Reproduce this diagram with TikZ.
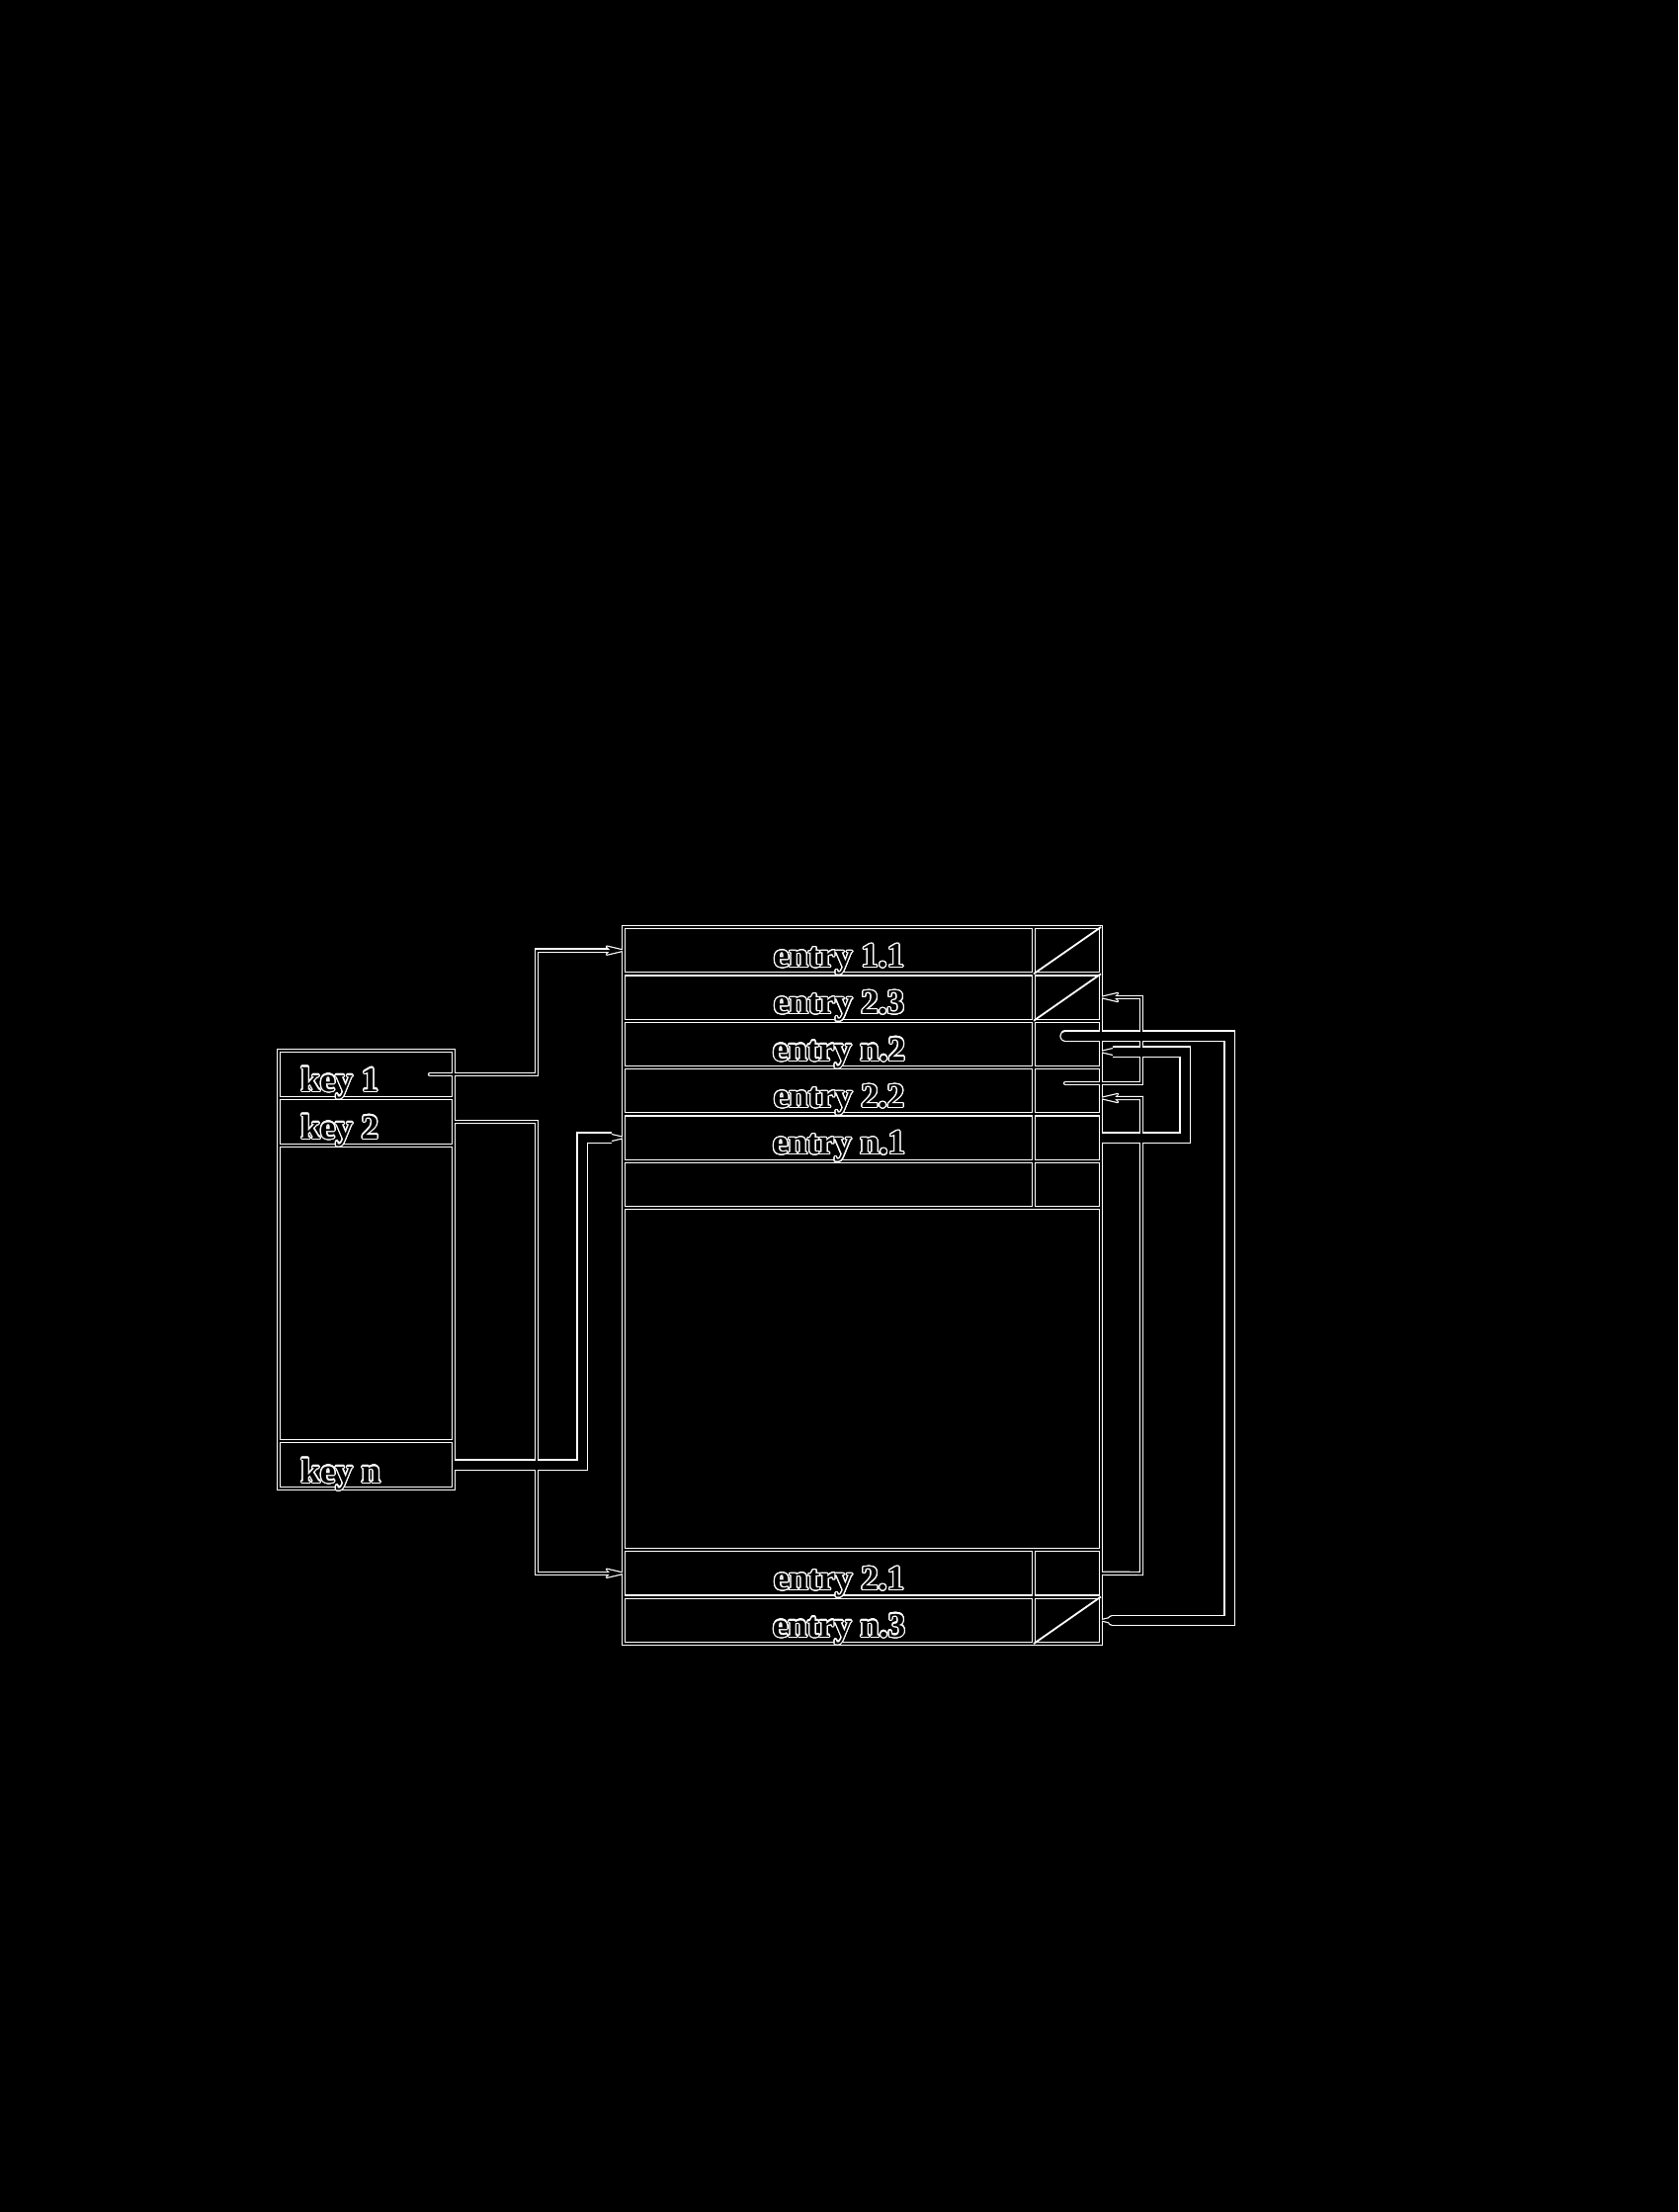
\documentclass[tikz,border=0pt]{standalone}
\usepackage{fontspec}
\setmainfont{Liberation Serif}
\usepackage{contour}
\contourlength{0.6pt}
\contournumber{24}
\usetikzlibrary{fit}

% arrow tips drawn as small polygons (pointing right / left)
\newcommand\tipR[1]{\path[tipst] (#1) -- ++(-17,-4) -- ++(4,4) -- ++(-4,4) -- cycle;}
\newcommand\tipL[1]{\path[tipst] (#1) -- ++(17,-4) -- ++(-4,4) -- ++(4,4) -- cycle;}

% all line work, drawn twice (white halo pass, then black core pass)
\newcommand\linework{%
  % key table
  \draw[gridl] (k1.north west) rectangle (kn.south east);
  \draw[gridl] (k1.south west) -- (k1.south east);
  \draw[gridl] (k2.south west) -- (k2.south east);
  \draw[gridl] (kn.north west) -- (kn.north east);
  % entry table
  \draw[gridl] (e11.north west) rectangle (pn3.south east);
  \foreach \r in {11,23,n2,22,n1,x,21}{\draw[gridl] (e\r.south west) -- (p\r.south east);}
  \draw[gridl] (e21.north west) -- (p21.north east);
  \draw[gridl] (p11.north west) -- (px.south west);
  \draw[gridl] (p21.north west) -- (pn3.south west);
  % connectors from the keys
  \draw[connl, shorten >=6pt] (k1a) -- (543,1087) |- (e11.west);
  \draw[connl, line cap=butt, shorten >=6pt] (k2.east) -- (543,1135) |- (e21.west);
  \draw[connk, line cap=butt, shorten >=6pt] (kn.east) -- (589,1482) |- (en1.west);
  % chains between entries
  \draw[connl, shorten >=6pt] (p22s) -- (1155,1096) |- (p23.east);
  \draw[connk, shorten >=6pt] (pn2s) -- (1244,1048) |- (pn3.east);
  \draw[connk, line cap=butt, shorten >=6pt] (pn1.east) -- (1199,1151) |- (pn2t);
  \draw[connl, line cap=butt, shorten >=6pt] (p21.east) -- (1155,1592) |- (p22t);
  % arrow tips
  \tipR{e11.west}\tipR{e21.west}\tipR{en1.west}
  \tipL{p23.east}\tipL{pn3.east}\tipL{pn2t}\tipL{p22t}
}

\begin{document}
\begin{tikzpicture}[x=0.5pt,y=-0.5pt,
  cellbox/.style={inner sep=0pt, outer sep=0pt, draw=none},
  etext/.style={anchor=base, inner sep=0pt, text=black, font=\fontsize{17.5}{21}\selectfont\bfseries},
  ktext/.style={anchor=base west, inner sep=0pt, text=black, font=\fontsize{17.5}{21}\selectfont\bfseries},
  slash/.style={draw=white, line width=0.9pt}]
\useasboundingbox (0,0) rectangle (1698,2238);
\fill[black] (0,0) rectangle (1698,2238);

% key table cells
\node[cellbox, fit={(282,1063) (459,1111)}] (k1) {};
\node[cellbox, fit={(282,1111) (459,1159)}] (k2) {};
\node[cellbox, fit={(282,1159) (459,1458)}] (kx) {};
\node[cellbox, fit={(282,1458) (459,1506)}] (kn) {};

% entry table cells
\node[cellbox, fit={(631,938) (1046,985.3)}] (e11) {};
\node[cellbox, fit={(1046,938) (1114,985.3)}] (p11) {};
\node[cellbox, fit={(631,985.3) (1046,1032.7)}] (e23) {};
\node[cellbox, fit={(1046,985.3) (1114,1032.7)}] (p23) {};
\node[cellbox, fit={(631,1032.7) (1046,1080)}] (en2) {};
\node[cellbox, fit={(1046,1032.7) (1114,1080)}] (pn2) {};
\node[cellbox, fit={(631,1080) (1046,1127.3)}] (e22) {};
\node[cellbox, fit={(1046,1080) (1114,1127.3)}] (p22) {};
\node[cellbox, fit={(631,1127.3) (1046,1174.7)}] (en1) {};
\node[cellbox, fit={(1046,1127.3) (1114,1174.7)}] (pn1) {};
\node[cellbox, fit={(631,1174.7) (1046,1222)}] (ex) {};
\node[cellbox, fit={(1046,1174.7) (1114,1222)}] (px) {};
\node[cellbox, fit={(631,1222) (1114,1568)}] (big) {};
\node[cellbox, fit={(631,1568) (1046,1615.5)}] (e21) {};
\node[cellbox, fit={(1046,1568) (1114,1615.5)}] (p21) {};
\node[cellbox, fit={(631,1615.5) (1046,1663)}] (en3) {};
\node[cellbox, fit={(1046,1615.5) (1114,1663)}] (pn3) {};

% pointer start / end points
\coordinate (k1a) at (435,1087);
\coordinate (p22s) at (1078,1096);
\coordinate (pn2s) at (1078,1048);
\coordinate (pn2t) at (1114,1064);
\coordinate (p22t) at (1114,1111);

% pass 1: white halo
\begin{scope}[
  gridl/.style={draw=white, line width=2.2pt, line join=miter},
  connl/.style={draw=white, line width=2.2pt, line cap=round, line join=miter},
  connk/.style={draw=white, line width=5.7pt, line cap=round, line join=miter},
  tipst/.style={fill=white, draw=white, line width=1.2pt, line join=round}]
  \linework
\end{scope}
% pass 2: black core
\begin{scope}[
  gridl/.style={draw=black, line width=1pt, line join=miter},
  connl/.style={draw=black, line width=1pt, line cap=round, line join=miter},
  connk/.style={draw=black, line width=4.5pt, line cap=round, line join=miter},
  tipst/.style={fill=black, draw=none}]
  \linework
\end{scope}

% empty-pointer slashes
\draw[slash] (p11.south west) -- (p11.north east);
\draw[slash] (p23.south west) -- (p23.north east);
\draw[slash] (pn3.south west) -- (pn3.north east);

% texts
\node[ktext] (tk1) at (304,1104) {\contour{white}{key 1}};
\node[ktext] (tk2) at (304,1152) {\contour{white}{key 2}};
\node[ktext] (tkn) at (304,1500) {\contour{white}{key n}};

\node[etext] (t11) at (849,978.3) {\contour{white}{entry 1.1}};
\node[etext] (t23) at (849,1025.7) {\contour{white}{entry 2.3}};
\node[etext] (tn2) at (849,1073) {\contour{white}{entry n.2}};
\node[etext] (t22) at (849,1120.3) {\contour{white}{entry 2.2}};
\node[etext] (tn1) at (849,1167.7) {\contour{white}{entry n.1}};
\node[etext] (t21) at (849,1608.5) {\contour{white}{entry 2.1}};
\node[etext] (tn3) at (849,1656) {\contour{white}{entry n.3}};
\end{tikzpicture}
\end{document}
